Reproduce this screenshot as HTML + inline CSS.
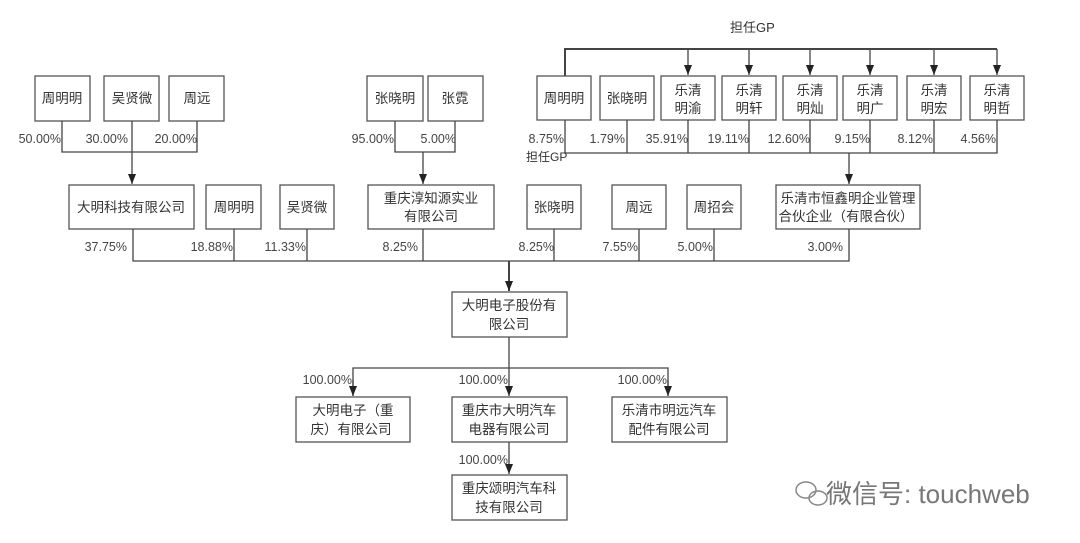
<!DOCTYPE html>
<html><head><meta charset="utf-8"><style>
html,body{margin:0;padding:0;background:#fff;}
svg{display:block;}
text{font-family:"Liberation Sans","Noto Sans CJK SC",sans-serif;fill:#333;}
.b{fill:#fff;stroke:#555;stroke-width:1.3;}
.l{stroke:#444;stroke-width:1.3;fill:none;}
.t{font-size:13.5px;text-anchor:middle;}
.p{font-size:12.5px;text-anchor:end;fill:#444;}
</style></head><body>
<svg width="1080" height="543" viewBox="0 0 1080 543" xmlns="http://www.w3.org/2000/svg">
<defs><marker id="a" markerWidth="10" markerHeight="8" refX="10" refY="4" orient="auto" markerUnits="userSpaceOnUse"><path d="M0,0 L10,4 L0,8 z" fill="#222"/></marker></defs>

<rect class="b" x="35" y="76" width="55" height="45"/><text class="t" x="62" y="103">周明明</text>
<rect class="b" x="104" y="76" width="55" height="45"/><text class="t" x="132" y="103">吴贤微</text>
<rect class="b" x="169" y="76" width="55" height="45"/><text class="t" x="197" y="103">周远</text>
<path class="l" d="M62,121 V152 H197 V121 M132,121 V152"/>
<path class="l" d="M132,152 V184" marker-end="url(#a)"/>
<text class="p" x="61" y="143">50.00%</text><text class="p" x="128" y="143">30.00%</text><text class="p" x="197" y="143">20.00%</text>

<rect class="b" x="367" y="76" width="56" height="45"/><text class="t" x="395" y="103">张晓明</text>
<rect class="b" x="428" y="76" width="55" height="45"/><text class="t" x="455" y="103">张霓</text>
<path class="l" d="M395,121 V152 H455 V121"/>
<path class="l" d="M423,152 V184" marker-end="url(#a)"/>
<text class="p" x="394" y="143">95.00%</text><text class="p" x="456" y="143">5.00%</text>

<text x="730" y="32" style="font-size:13px">担任GP</text>
<path class="l" d="M565,76 V49 H997" style="stroke-width:2"/>
<path class="l" d="M688,49 V75" marker-end="url(#a)"/>
<path class="l" d="M749,49 V75" marker-end="url(#a)"/>
<path class="l" d="M810,49 V75" marker-end="url(#a)"/>
<path class="l" d="M870,49 V75" marker-end="url(#a)"/>
<path class="l" d="M934,49 V75" marker-end="url(#a)"/>
<path class="l" d="M997,49 V75" marker-end="url(#a)"/>
<rect class="b" x="537" y="76" width="54" height="44"/><text class="t" x="564" y="103">周明明</text>
<rect class="b" x="600" y="76" width="54" height="44"/><text class="t" x="627" y="103">张晓明</text>
<rect class="b" x="661" y="76" width="54" height="44"/><text class="t" x="688" y="95">乐清</text><text class="t" x="688" y="113">明渝</text>
<rect class="b" x="722" y="76" width="54" height="44"/><text class="t" x="749" y="95">乐清</text><text class="t" x="749" y="113">明轩</text>
<rect class="b" x="783" y="76" width="54" height="44"/><text class="t" x="810" y="95">乐清</text><text class="t" x="810" y="113">明灿</text>
<rect class="b" x="843" y="76" width="54" height="44"/><text class="t" x="870" y="95">乐清</text><text class="t" x="870" y="113">明广</text>
<rect class="b" x="907" y="76" width="54" height="44"/><text class="t" x="934" y="95">乐清</text><text class="t" x="934" y="113">明宏</text>
<rect class="b" x="970" y="76" width="54" height="44"/><text class="t" x="997" y="95">乐清</text><text class="t" x="997" y="113">明哲</text>
<path class="l" d="M565,120 V153 H997 V120 M627,120 V153 M688,120 V153 M749,120 V153 M810,120 V153 M870,120 V153 M934,120 V153"/>
<path class="l" d="M849,153 V184" marker-end="url(#a)"/>
<text class="p" x="564" y="143">8.75%</text><text x="526" y="161" style="font-size:12px">担任GP</text>
<text class="p" x="625" y="143">1.79%</text><text class="p" x="688" y="143">35.91%</text><text class="p" x="749" y="143">19.11%</text>
<text class="p" x="810" y="143">12.60%</text><text class="p" x="870" y="143">9.15%</text><text class="p" x="933" y="143">8.12%</text><text class="p" x="996" y="143">4.56%</text>

<rect class="b" x="69" y="185" width="125" height="44"/><text class="t" x="131" y="212">大明科技有限公司</text>
<rect class="b" x="206" y="185" width="55" height="44"/><text class="t" x="234" y="212">周明明</text>
<rect class="b" x="280" y="185" width="54" height="44"/><text class="t" x="307" y="212">吴贤微</text>
<rect class="b" x="368" y="185" width="126" height="44"/><text class="t" x="431" y="203">重庆淳知源实业</text><text class="t" x="431" y="221">有限公司</text>
<rect class="b" x="527" y="185" width="54" height="44"/><text class="t" x="554" y="212">张晓明</text>
<rect class="b" x="612" y="185" width="54" height="44"/><text class="t" x="639" y="212">周远</text>
<rect class="b" x="687" y="185" width="54" height="44"/><text class="t" x="714" y="212">周招会</text>
<rect class="b" x="776" y="185" width="144" height="44"/><text class="t" x="848" y="203">乐清市恒鑫明企业管理</text><text class="t" x="846" y="221">合伙企业（有限合伙）</text>
<path class="l" d="M133,229 V261 H849 V229 M234,229 V261 M307,229 V261 M423,229 V261 M554,229 V261 M639,229 V261 M714,229 V261"/>
<text class="p" x="127" y="251">37.75%</text><text class="p" x="233" y="251">18.88%</text><text class="p" x="306" y="251">11.33%</text>
<text class="p" x="418" y="251">8.25%</text><text class="p" x="554" y="251">8.25%</text><text class="p" x="638" y="251">7.55%</text>
<text class="p" x="713" y="251">5.00%</text><text class="p" x="843" y="251">3.00%</text>

<path class="l" d="M509,261 V291" marker-end="url(#a)" style="stroke-width:2"/>
<rect class="b" x="452" y="292" width="115" height="45"/><text class="t" x="509" y="310">大明电子股份有</text><text class="t" x="509" y="329">限公司</text>
<path class="l" d="M509,337 V396" marker-end="url(#a)"/>
<path class="l" d="M353,396 V368 H668 V396"/>
<path class="l" d="M353,380 V396" marker-end="url(#a)"/>
<path class="l" d="M668,380 V396" marker-end="url(#a)"/>
<text class="p" x="352" y="384">100.00%</text><text class="p" x="508" y="384">100.00%</text><text class="p" x="667" y="384">100.00%</text>
<rect class="b" x="296" y="397" width="114" height="45"/><text class="t" x="353" y="415">大明电子（重</text><text class="t" x="351" y="434">庆）有限公司</text>
<rect class="b" x="452" y="397" width="115" height="45"/><text class="t" x="509" y="415">重庆市大明汽车</text><text class="t" x="509" y="434">电器有限公司</text>
<rect class="b" x="612" y="397" width="115" height="45"/><text class="t" x="669" y="415">乐清市明远汽车</text><text class="t" x="669" y="434">配件有限公司</text>
<path class="l" d="M509,442 V474" marker-end="url(#a)"/>
<text class="p" x="508" y="464">100.00%</text>
<rect class="b" x="452" y="475" width="115" height="45"/><text class="t" x="509" y="493">重庆颂明汽车科</text><text class="t" x="509" y="512">技有限公司</text>

<g fill="none" stroke="#888" stroke-width="1.5">
<ellipse cx="806" cy="490" rx="10" ry="8"/><ellipse cx="818" cy="498" rx="9" ry="7"/>
</g>
<text x="826" y="503" style="font-size:26px;fill:#777">微信号: touchweb</text>
</svg>
</body></html>
